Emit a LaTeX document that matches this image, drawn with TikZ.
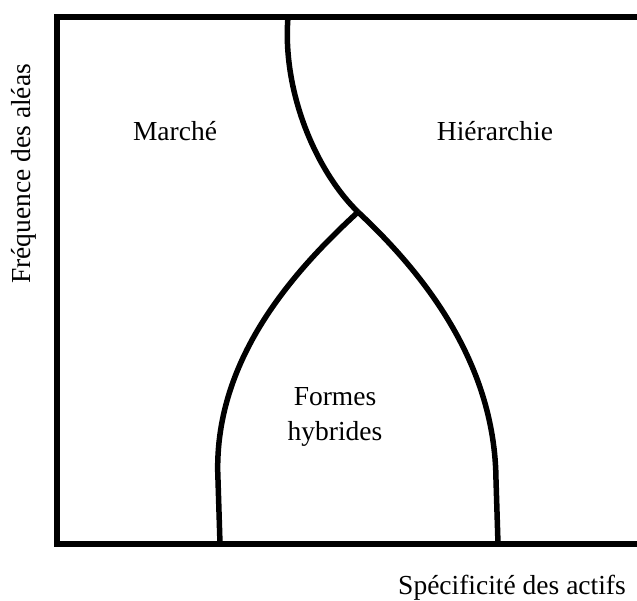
\documentclass[tikz,border=0pt]{standalone}
\usepackage{fontspec}
\setmainfont{Liberation Serif}
\usepackage{tikz}
\usetikzlibrary{positioning}

\begin{document}
\begin{tikzpicture}[x=1pt, y=-1pt, every node/.style={font=\fontsize{27.5}{35}\selectfont}, frontier/.style={line width=5.5pt}]
\useasboundingbox (0,0) rectangle (637,601);

% Define the nodes
\node[anchor=base] (marche) at (175, 141) {Marché};
\node[anchor=base] (hierarchie) at (495, 141) {Hiérarchie};
\node[align=center] (hybrides) at (335, 417) {Formes\\hybrides};
\node[anchor=base] (actifs) at (512, 594) {Spécificité des actifs};
\node[rotate=90] (aleas) at (24, 174) {Fréquence des aléas};

% Frame (open on the right)
\draw[frontier] (637, 17) -- (57, 17) -- (57, 544) -- (637, 544);

% Frontiers between the three forms
\coordinate (top) at (288, 17);
\coordinate (meet) at (358, 212);
\coordinate (leftfoot) at (220, 544);
\coordinate (rightfoot) at (498, 544);

\draw[frontier] (top) .. controls (282, 90) and (315, 170) .. (meet);
\draw[frontier] (meet) .. controls (295, 270) and (212, 360) .. (218, 480) -- (leftfoot);
\draw[frontier] (meet) .. controls (420, 270) and (495, 360) .. (496, 480) -- (rightfoot);
\end{tikzpicture}
\end{document}
